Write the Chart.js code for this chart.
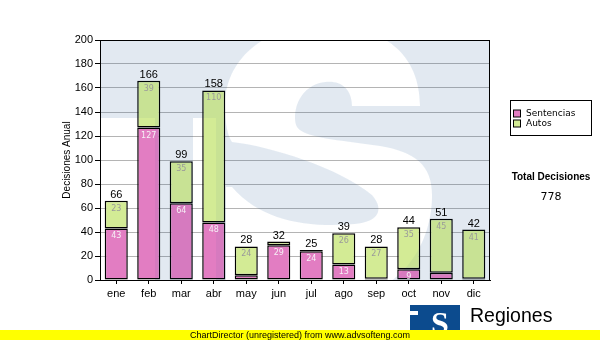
<!DOCTYPE html>
<html><head><meta charset="utf-8">
<script src="https://cdn.jsdelivr.net/npm/chart.js@4.4.1/dist/chart.umd.min.js"></script>
<style>html,body{margin:0;padding:0;background:#fff;}canvas{display:block;}</style>
</head><body>
<canvas id="c" width="600" height="340"></canvas>
<script>
// ---- data ----
const months = ['ene','feb','mar','abr','may','jun','jul','ago','sep','oct','nov','dic'];
const sentencias = [43,127,64,48,4,29,24,13,1,9,6,1];
const autos = [23,39,35,110,24,3,1,26,27,35,45,41];
const seriesNames = ['Sentencias','Autos'];
const yMin = 0, yMax = 200, yStep = 20;
const yTitle = 'Decisiones Anual';
const totalTitle = 'Total Decisiones';
const brandName = 'Regiones';
const brandSub = 'Tribunal Supremo de Justicia';
const footer = 'ChartDirector (unregistered) from www.advsofteng.com';

const totals = months.map((m,i)=>sentencias[i]+autos[i]);
const grandTotal = totals.reduce((a,b)=>a+b,0);

const PINK = '#e27dc2', GREEN = '#d3eb95', LOGO = '#0c4b8e';

let wmCanvas = null;
function buildWatermark(chart){
  const ca = chart.chartArea;
  const sx = ca.width/390, sy = ca.height/240;
  const X = x => ca.left + (x-100)*sx, Y = y => ca.top + (y-40)*sy;
  const off = document.createElement('canvas');
  off.width = chart.width; off.height = chart.height;
  const o = off.getContext('2d');
  o.fillStyle = LOGO; o.fillRect(ca.left, ca.top, ca.width, ca.height);
  o.globalCompositeOperation = 'destination-out';
  o.fillStyle = '#000';
  o.fillRect(X(100), Y(118), X(155)-X(100), Y(300)-Y(118));
  o.fillRect(X(193), Y(118), X(216)-X(193), Y(300)-Y(118));
  o.beginPath();
  o.moveTo(X(352),Y(106));
  o.lineTo(X(420),Y(106));
  o.bezierCurveTo(X(420),Y(55),X(385),Y(25),X(322),Y(25));
  o.bezierCurveTo(X(262),Y(25),X(225),Y(62),X(225),Y(105));
  o.bezierCurveTo(X(225),Y(125),X(228),Y(136),X(232),Y(142));
  o.bezierCurveTo(X(270),Y(146),X(340),Y(168),X(372),Y(195));
  o.bezierCurveTo(X(385),Y(210),X(378),Y(222),X(355),Y(224));
  o.bezierCurveTo(X(310),Y(228),X(262),Y(222),X(232),Y(187));
  o.lineTo(X(226),Y(187));
  o.lineTo(X(226),Y(300));
  o.lineTo(X(330),Y(300));
  o.bezierCurveTo(X(395),Y(300),X(432),Y(250),X(432),Y(195));
  o.bezierCurveTo(X(432),Y(165),X(415),Y(152),X(380),Y(146));
  o.bezierCurveTo(X(340),Y(140),X(300),Y(138),X(296),Y(125));
  o.bezierCurveTo(X(292),Y(110),X(300),Y(85),X(325),Y(82));
  o.bezierCurveTo(X(340),Y(80),X(352),Y(88),X(352),Y(106));
  o.closePath();
  o.fill();
  return off;
}
function paintWatermark(chart, alpha){
  const ca = chart.chartArea, ctx = chart.ctx;
  if (!wmCanvas) wmCanvas = buildWatermark(chart);
  ctx.save();
  ctx.beginPath(); ctx.rect(ca.left, ca.top, ca.width, ca.height); ctx.clip();
  ctx.globalAlpha = alpha;
  ctx.drawImage(wmCanvas,0,0);
  ctx.restore();
}

const plugin = {
  id:'custom',
  beforeDraw(chart){
    const ctx = chart.ctx;
    ctx.save(); ctx.fillStyle='#fff'; ctx.fillRect(0,0,chart.width,chart.height); ctx.restore();
  },
  beforeDatasetsDraw(chart){ paintWatermark(chart, 0.06); },
  afterDatasetsDraw(chart){
    const ctx = chart.ctx, ca = chart.chartArea;
    paintWatermark(chart, 0.05);
    ctx.save();
    ctx.strokeStyle='#000'; ctx.lineWidth=1;
    ctx.strokeRect(Math.round(ca.left)+0.5, Math.round(ca.top)+0.5, Math.round(ca.width)-1, Math.round(ca.height));
    ctx.restore();
    const y = chart.scales.y;
    const m0 = chart.getDatasetMeta(0), m1 = chart.getDatasetMeta(1);
    ctx.save();
    ctx.textAlign='center'; ctx.textBaseline='middle';
    ctx.font='8px "DejaVu Sans"';
    months.forEach((m,i)=>{
      const b0 = m0.data[i], b1 = m1.data[i];
      if (sentencias[i] >= 8){ ctx.fillStyle='#f6f0f6'; ctx.fillText(String(sentencias[i]), b0.x, b0.y+8); }
      if (autos[i] >= 8){ ctx.fillStyle='#9a9a9a'; ctx.fillText(String(autos[i]), b1.x, b1.y+8); }
    });
    ctx.font='11px "Liberation Sans"'; ctx.fillStyle='#000'; ctx.textBaseline='alphabetic';
    months.forEach((m,i)=>{
      const b1 = m1.data[i];
      ctx.fillText(String(totals[i]), b1.x, y.getPixelForValue(totals[i]) - 3);
    });
    ctx.restore();
  },
  afterDraw(chart){
    const ctx = chart.ctx, ca = chart.chartArea;
    ctx.save();
    ctx.translate(67, (ca.top+ca.bottom)/2);
    ctx.rotate(-Math.PI/2);
    ctx.font='10px "Liberation Sans"'; ctx.fillStyle='#000';
    ctx.textAlign='center'; ctx.textBaseline='middle';
    ctx.fillText(yTitle,0,0);
    ctx.restore();
    ctx.save();
    ctx.fillStyle='#fff'; ctx.fillRect(510.5,100.5,81,35);
    ctx.strokeStyle='#000'; ctx.lineWidth=1; ctx.strokeRect(510.5,100.5,81,35);
    const cols=[PINK,GREEN];
    ctx.font='9px "DejaVu Sans"'; ctx.textBaseline='middle'; ctx.textAlign='left';
    seriesNames.forEach((n,i)=>{
      const yy = 113.5 + i*10;
      ctx.fillStyle=cols[i]; ctx.fillRect(513.5, yy-3.5, 7, 7);
      ctx.strokeStyle='#000'; ctx.strokeRect(513.5, yy-3.5, 7, 7);
      ctx.fillStyle='#000'; ctx.fillText(n, 526, yy+0.5);
    });
    ctx.textAlign='center';
    ctx.font='bold 10px "Liberation Sans"'; ctx.fillText(totalTitle, 551, 177.5);
    ctx.font='11px "DejaVu Sans"'; ctx.fillText(String(grandTotal), 551, 197.5);
    // logo
    ctx.fillStyle=LOGO; ctx.fillRect(410,305,50,30);
    ctx.fillStyle='#fff'; ctx.fillRect(410,311,8,4);
    ctx.font='bold 32px "Liberation Serif"'; ctx.textAlign='center'; ctx.textBaseline='alphabetic';
    ctx.fillText('S', 440, 334);
    ctx.fillStyle='#000'; ctx.textAlign='left'; ctx.font='19.5px "Liberation Sans"';
    ctx.fillText(brandName, 470, 322);
    // yellow footer
    ctx.fillStyle='#ffff00'; ctx.fillRect(0,330,600,10);
    ctx.save(); ctx.beginPath(); ctx.rect(460,328,140,4); ctx.clip();
    ctx.fillStyle='#000'; ctx.font='11px "Liberation Sans"'; ctx.fillText(brandSub, 467, 340);
    ctx.restore();
    ctx.fillStyle='#000'; ctx.font='9px "Liberation Sans"'; ctx.textAlign='center'; ctx.textBaseline='middle';
    ctx.fillText(footer, 300, 335.5);
    ctx.restore();
  }
};

new Chart(document.getElementById('c'), {
  type:'bar',
  data:{
    labels: months,
    datasets:[
      {label:seriesNames[0], data:sentencias, backgroundColor:PINK, borderColor:'#000', borderWidth:1.5, borderSkipped:false},
      {label:seriesNames[1], data:autos, backgroundColor:GREEN, borderColor:'#000', borderWidth:1.5, borderSkipped:false}
    ]
  },
  options:{
    responsive:false, animation:false, devicePixelRatio:1,
    datasets:{bar:{categoryPercentage:1, barPercentage:0.71}},
    layout:{padding:{left:0,right:110,top:40,bottom:40}},
    plugins:{legend:{display:false}, tooltip:{enabled:false}, title:{display:false}},
    scales:{
      x:{
        stacked:true,
        grid:{drawOnChartArea:false, offset:false, tickLength:4, tickColor:'#000'},
        border:{color:'#000', width:1},
        ticks:{font:{family:'Liberation Sans', size:11}, color:'#000', padding:3, maxRotation:0},
        afterFit(s){ s.height = 20; }
      },
      y:{
        stacked:true, min:yMin, max:yMax,
        grid:{color:'#b4b4b4', tickLength:5, tickColor:'#000'},
        border:{color:'#000', width:1},
        ticks:{stepSize:yStep, font:{family:'Liberation Sans', size:11}, color:'#000', padding:2},
        afterFit(s){ s.width = 100; }
      }
    }
  },
  plugins:[plugin]
});
</script>
</body></html>
